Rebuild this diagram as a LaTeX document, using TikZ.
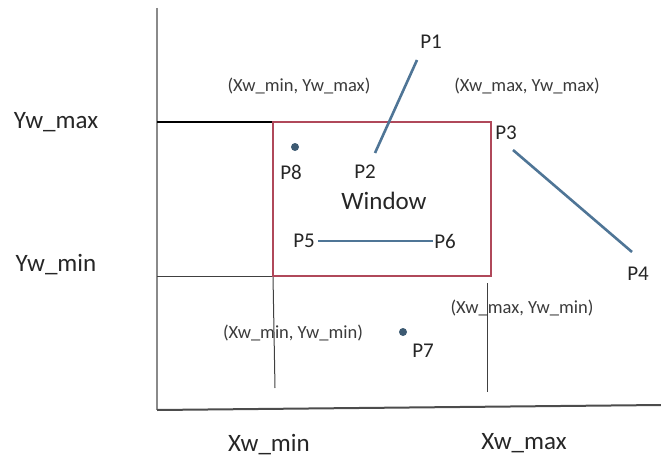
\documentclass[tikz,border=0pt]{standalone}
\usepackage{fontspec}
\setmainfont{Carlito}
\definecolor{winred}{HTML}{B0485A}
\definecolor{segblue}{HTML}{4F7596}
\definecolor{dotcol}{HTML}{3D5A72}
\definecolor{txt}{HTML}{262626}
\definecolor{smalltxt}{HTML}{3A3A3A}
\definecolor{axisgray}{HTML}{8A8A8A}
\tikzset{
  big/.style={font=\fontsize{25}{27}\selectfont, text=txt, inner sep=0pt},
  small/.style={font=\fontsize{18.5}{20}\selectfont, text=smalltxt, inner sep=0pt},
  plab/.style={font=\fontsize{21}{23}\selectfont, text=txt, inner sep=0pt},
  seg/.style={segblue, line width=2.6pt},
  dotp/.style={circle, fill=dotcol, minimum size=8pt, inner sep=0pt},
}
\begin{document}
\begin{tikzpicture}[x=1pt,y=-1pt]
\useasboundingbox (0,0) rectangle (661,460);
% axes
\coordinate (ytop) at (157,8);
\coordinate (orig) at (157,410);
\coordinate (xend) at (661,405);
\draw[axisgray, line width=2.4pt] (ytop) -- (orig);
\draw[black!70, line width=2pt] (orig) -- (xend);
% window
\coordinate (wtl) at (273,122);
\coordinate (wbr) at (491,276);
\coordinate (wbl) at (273,276);
% boundary lines
\coordinate (ymaxL) at (157,122);
\coordinate (yminL) at (157,276);
\coordinate (xminB) at (275,388);
\coordinate (xmaxT) at (487,283);
\coordinate (xmaxB) at (487,392);
\draw[black, line width=1.8pt] (ymaxL) -- (wtl);
\draw[black!75, line width=1pt] (yminL) -- (wbl);
\draw[black!75, line width=1pt] (wbl) -- (xminB);
\draw[black!75, line width=1pt] (xmaxT) -- (xmaxB);
\draw[winred, line width=2.4pt] (wtl) rectangle (wbr);
% axis labels
\node[big] (ymax) at (56,122) {Yw\_max};
\node[big] (ymin) at (56,265) {Yw\_min};
\node[big] (xmin) at (269,445) {Xw\_min};
\node[big] (xmax) at (524,443) {Xw\_max};
% corner labels
\node[small] (c1) at (299,86) {(Xw\_min, Yw\_max)};
\node[small] (c2) at (527,86) {(Xw\_max, Yw\_max)};
\node[small] (c3) at (293,333) {(Xw\_min, Yw\_min)};
\node[small] (c4) at (522,308) {(Xw\_max, Yw\_min)};
% window label
\node[big] (win) at (384,201) {Window};
% points
\node[plab] (p1) at (431,42) {P1};
\node[plab] (p2) at (365,172) {P2};
\node[plab] (p3) at (506,133) {P3};
\node[plab] (p4) at (638,274) {P4};
\node[plab] (p5) at (304,241) {P5};
\node[plab] (p6) at (445,241) {P6};
\node[plab] (p7) at (423,351) {P7};
\node[plab] (p8) at (291,172) {P8};
\node[dotp] (d8) at (295,147) {};
\node[dotp] (d7) at (403,332) {};
% segments
\coordinate (s1) at (417,60);
\coordinate (s2) at (375,153);
\coordinate (s3) at (513,150);
\coordinate (s4) at (632,252);
\draw[seg] (s1) -- (s2);
\draw[seg] (s3) -- (s4);
\draw[seg] ([xshift=3pt]p5.east) -- ([xshift=-1pt]p6.west);
\end{tikzpicture}
\end{document}
